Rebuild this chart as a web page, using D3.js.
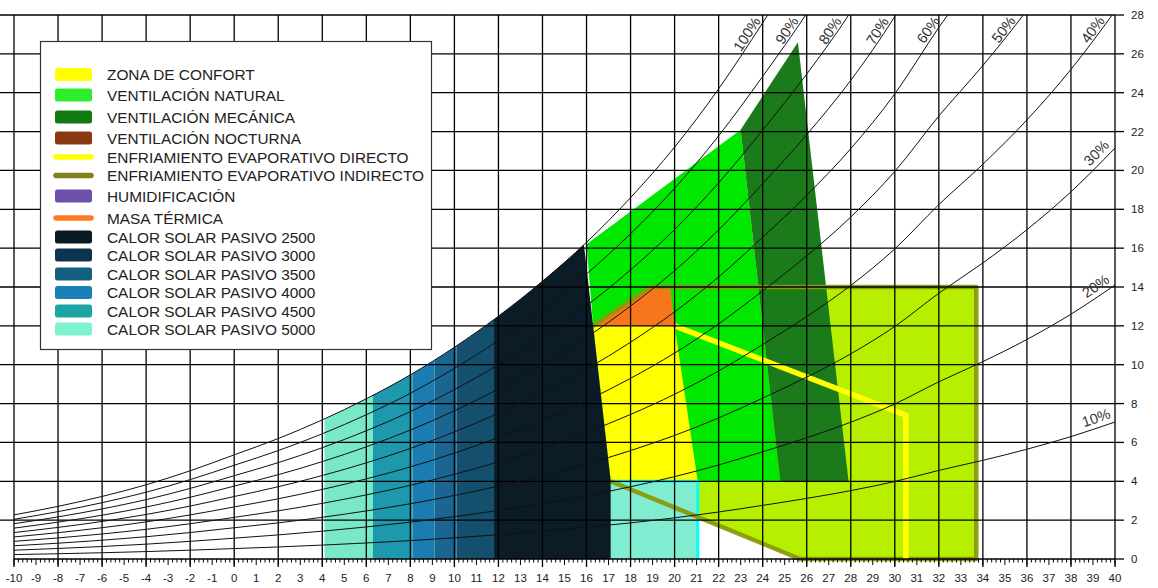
<!DOCTYPE html>
<html><head><meta charset="utf-8">
<script src="https://cdn.jsdelivr.net/npm/d3@7"></script>
<style>
body{margin:0;background:#fff;}
svg{display:block;font-family:"Liberation Sans",Arial,sans-serif;}
</style>
</head><body>
<svg id="chart" width="1158" height="588"></svg>
<script>
// ---------------- DATA ----------------
// saturation humidity ratio (g/kg)
const satTemps = [-10,-8,-6,-4,-2,0,2,4,6,8,10,12,14,16,18,20,22,24,26,28,30,32,34,36,38,40];
const satHumidity = [2.27,2.71,3.22,3.82,4.54,5.36,6.20,7.16,8.25,9.48,10.9,12.5,14.3,16.3,18.6,21.2,24.2,27.6,31.2,35.2,39.9,45.6,50.8,56.5,63.0,70.5];
const rhLevels = [10,20,30,40,50,60,70,80,90,100];
const rhLabels = ["10%","20%","30%","40%","50%","60%","70%","80%","90%","100%"];
const xTickLabels = d3.range(-10,41);
const yTickLabels = d3.range(0,29,2);

// zones as [temperature °C, humidity g/kg] vertices
const indirectEvapZone = [[16.3,12],[18.9,14],[33.7,14],[33.7,0],[25.7,0],[17.1,4]];
const naturalVentZone = [[16.0,16.2],[23.0,22.1],[24.8,4],[17.1,4],[16.3,12]];
const mechanicalVentZone = [[23.0,22.1],[25.6,26.6],[27.9,4],[24.8,4]];
const comfortZone = [[16.3,12],[20.0,12],[21.05,4],[17.1,4]];
const thermalMassZone = [[16.3,12],[18.9,14],[19.8,14],[20.0,12]];
const directEvapLine = [[20.0,12],[30.5,7.4],[30.5,0]];
const humidificationPoint = [[20.0,12]];
const solar5000Zone = [[4.1,0],[6.3,0],[6.3,28],[4.1,28]];
const solar4500Zone = [[6.3,0],[8.1,0],[8.1,28],[6.3,28]];
const solar4000Zone = [[8.1,0],[9.1,0],[9.1,28],[8.1,28]];
const solar3500Zone = [[9.1,0],[10.1,0],[10.1,28],[9.1,28]];
const solar3000Zone = [[10.1,0],[11.8,0],[11.8,28],[10.1,28]];
const solar2500Zone = [[11.8,0],[17.1,0],[17.1,4],[16.3,12],[15.8,17],[11.8,17]];
const solar5000Box = [[17.1,0],[21.05,0],[21.05,4],[17.1,4]];

const legendLabels = ["ZONA DE CONFORT","VENTILACIÓN NATURAL","VENTILACIÓN MECÁNICA","VENTILACIÓN NOCTURNA",
  "ENFRIAMIENTO EVAPORATIVO DIRECTO","ENFRIAMIENTO EVAPORATIVO INDIRECTO","HUMIDIFICACIÓN","MASA TÉRMICA",
  "CALOR SOLAR PASIVO 2500","CALOR SOLAR PASIVO 3000","CALOR SOLAR PASIVO 3500","CALOR SOLAR PASIVO 4000",
  "CALOR SOLAR PASIVO 4500","CALOR SOLAR PASIVO 5000"];
const legendKinds = ["box","box","box","box","line","line","box","line","box","box","box","box","box","box"];
const legendColors = ["#ffff00","#2cee2c","#127a12","#8a3a10","#ffff00","#80801c","#6c4fa8","#ff7a22",
  "#0a1b24","#0e3550","#13607f","#1a80b8","#1da5a5","#80f2d0"];

// ---------------- LAYOUT ----------------
const legendRowY = [74.5,95,117,138,157,175.5,196,218,237,255,274,292.5,311,329];

// ---------------- CHART ----------------
const svg = d3.select("#chart");
const x = d3.scaleLinear().domain([-10,40]).range([14,1115]);
const y = d3.scaleLinear().domain([0,28]).range([559,15]);
const line = d3.line().x(d=>x(d[0])).y(d=>y(d[1]));
const poly = pts => line(pts)+"Z";

const defs = svg.append("defs");
defs.append("clipPath").attr("id","plotClip").append("rect")
  .attr("x",x(-10)).attr("y",y(28)).attr("width",x(40)-x(-10)).attr("height",y(0)-y(28));
const satPts = satTemps.map((t,i)=>[t,satHumidity[i]]);
const satArea = d3.area().x(d=>x(d[0])).y0(y(0)).y1(d=>y(d[1])).curve(d3.curveMonotoneX);
defs.append("clipPath").attr("id","satClip").append("path").attr("d",satArea(satPts));

const zones = svg.append("g");
zones.append("path").attr("d",poly(indirectEvapZone)).attr("fill","#b6f000");
zones.append("path").attr("d",poly(naturalVentZone)).attr("fill","#00e800");
zones.append("path").attr("d",poly(mechanicalVentZone)).attr("fill","#1b7b1b");
zones.append("path").attr("d",poly(comfortZone)).attr("fill","#ffff00");
zones.append("path").attr("d",poly(thermalMassZone)).attr("fill","#f7761c");
zones.append("path").attr("d",poly(solar5000Box)).attr("fill","#80ecd0");
zones.append("path").attr("d",line([[17.1,4],[21.05,4],[21.05,0]]))
  .attr("fill","none").attr("stroke","#00ffff").attr("stroke-width",3);
zones.append("path").attr("d",line(indirectEvapZone))
  .attr("fill","none").attr("stroke","#8a9a08").attr("stroke-width",4.5).attr("stroke-linejoin","round").attr("opacity",0.95);
zones.append("path").attr("d",line(directEvapLine))
  .attr("fill","none").attr("stroke","#ffff00").attr("stroke-width",5.5);
zones.selectAll("circle.hum").data(humidificationPoint).join("circle")
  .attr("cx",d=>x(d[0])).attr("cy",d=>y(d[1])).attr("r",1.8).attr("fill","#cc33ff");

const solar = svg.append("g").attr("clip-path","url(#satClip)");
[[solar5000Zone,"#78e8c8"],[solar4500Zone,"#1d98ac"],[solar4000Zone,"#1b7cb2"],
 [solar3500Zone,"#1a6690"],[solar3000Zone,"#154f6e"],[solar2500Zone,"#0b1c26"]]
 .forEach(([z,c])=>solar.append("path").attr("d",poly(z)).attr("fill",c));

// grid
const grid = svg.append("g").attr("stroke","#000").attr("stroke-width",1.3);
grid.selectAll("line.v").data(d3.range(-10,41,2)).join("line")
  .attr("x1",d=>x(d)).attr("x2",d=>x(d)).attr("y1",y(28)).attr("y2",567);
grid.selectAll("line.h").data(d3.range(2,29,2)).join("line")
  .attr("x1",0).attr("x2",x(40)).attr("y1",d=>y(d)).attr("y2",d=>y(d));
grid.append("line").attr("x1",x(-10)).attr("x2",x(40)).attr("y1",y(0)).attr("y2",y(0));

// RH curves
const rhLine = d3.line().x(d=>x(d[0])).y(d=>y(d[1])).curve(d3.curveMonotoneX);
const curves = svg.append("g");
const curveLines = curves.append("g").attr("clip-path","url(#plotClip)");
rhLevels.forEach((r,i)=>{
  const pts = satTemps.map((t,j)=>[t, r/100*satHumidity[j]]);
  const p = curveLines.append("path").attr("d",rhLine(pts))
    .attr("fill","none").attr("stroke","#111").attr("stroke-width",1);
  const node = p.node(); const L = node.getTotalLength();
  let exitL = L, top = false;
  for (let l=0;l<=L;l+=0.5){ const pt=node.getPointAtLength(l); if (pt.y<=y(28)){exitL=l;top=true;break;} }
  const pe = node.getPointAtLength(exitL), pb = node.getPointAtLength(exitL-4);
  const ang = Math.atan2(pe.y-pb.y, pe.x-pb.x);
  const back = top ? 9 : 2;
  const ex = pe.x - back*Math.cos(ang), ey = pe.y - back*Math.sin(ang);
  curves.append("text").attr("transform",`translate(${ex},${ey}) rotate(${ang*180/Math.PI})`)
    .attr("text-anchor","end").attr("dy",top ? -2 : -5).attr("font-size",14.5).attr("fill","#333").text(rhLabels[i]);
});

// x axis ticks
const ax = svg.append("g").attr("stroke","#000");
ax.selectAll("line.t").data(d3.range(0,251).map(i=>-10+i*0.2)).join("line")
  .attr("x1",d=>x(d)).attr("x2",d=>x(d)).attr("y1",y(0))
  .attr("y2",d=>Math.abs(d-Math.round(d))<1e-6 ? y(0)+6 : y(0)+3.5).attr("stroke-width",1);
svg.append("g").selectAll("text").data(xTickLabels).join("text")
  .attr("x",d=>x(d)).attr("y",578).attr("dy","0.35em").attr("text-anchor","middle")
  .attr("font-size",11.5).attr("fill","#222").text(d=>d);
// right axis
svg.append("g").selectAll("line").data(yTickLabels).join("line")
  .attr("x1",x(40)).attr("x2",x(40)+9).attr("y1",d=>y(d)).attr("y2",d=>y(d)).attr("stroke","#000").attr("stroke-width",1.3);
svg.append("g").selectAll("text").data(yTickLabels).join("text")
  .attr("x",1131).attr("y",d=>y(d)).attr("dy","0.35em").attr("font-size",11.5).attr("fill","#222").text(d=>d);

// legend
const lg = svg.append("g");
lg.append("rect").attr("x",40.5).attr("y",41.5).attr("width",391).attr("height",308)
  .attr("fill","#fff").attr("stroke","#333").attr("stroke-width",1.2);
legendLabels.forEach((lab,i)=>{
  const cy = legendRowY[i];
  if (legendKinds[i]==="box"){
    lg.append("rect").attr("x",55).attr("y",cy-6.5).attr("width",37).attr("height",13).attr("rx",2.5)
      .attr("fill",legendColors[i]);
  } else {
    lg.append("line").attr("x1",56).attr("x2",91).attr("y1",cy).attr("y2",cy)
      .attr("stroke",legendColors[i]).attr("stroke-width",5.5).attr("stroke-linecap","round");
  }
  lg.append("text").attr("x",107).attr("y",cy).attr("dy","0.36em").attr("font-size",15.4).attr("fill","#222").text(lab);
});
</script>
</body></html>
